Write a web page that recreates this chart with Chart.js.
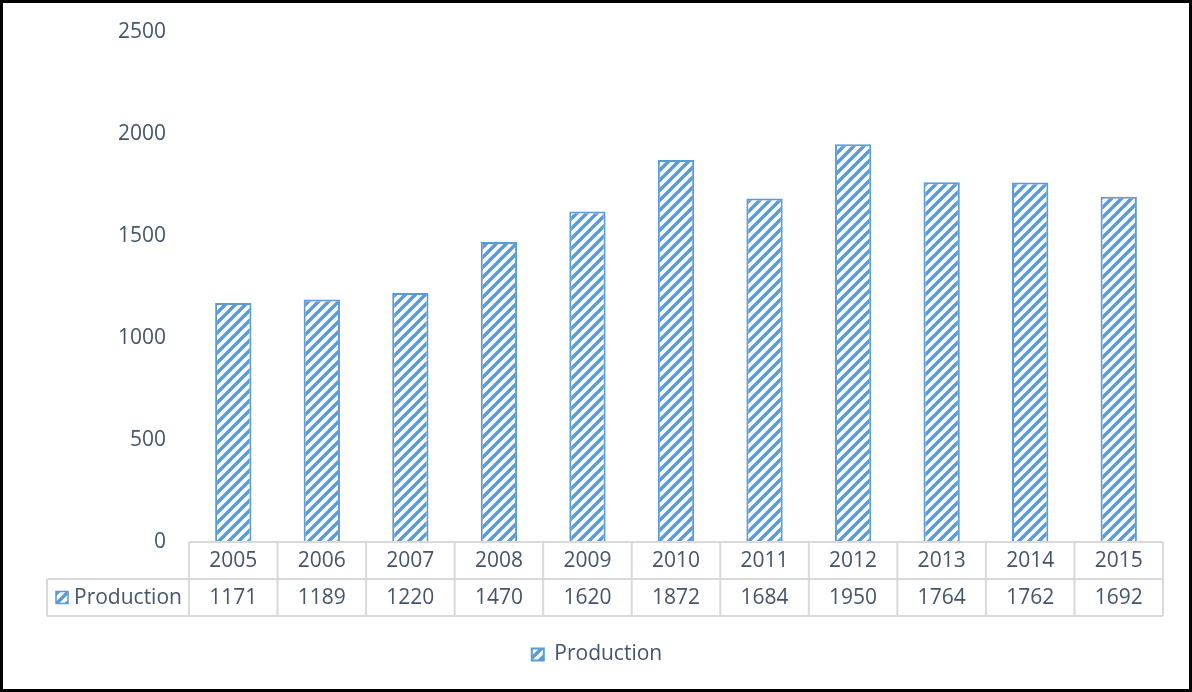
<!DOCTYPE html>
<html>
<head>
<meta charset="utf-8">
<script src="https://cdn.jsdelivr.net/npm/chart.js@4"></script>
<style>
  html, body { margin: 0; padding: 0; background: #fff; }
  #wrap { width: 1192px; height: 692px; }
</style>
</head>
<body>
<div id="wrap"><canvas id="chart" width="1192" height="692"></canvas></div>
<script>
// datos del grafico
const years = ['2005', '2006', '2007', '2008', '2009', '2010', '2011', '2012', '2013', '2014', '2015'];
const production = [1171, 1189, 1220, 1470, 1620, 1872, 1684, 1950, 1764, 1762, 1692];
const yTicks = [0, 500, 1000, 1500, 2000, 2500];
const seriesName = 'Production';

const blue = '#5B9BD5';
const textColor = '#44546A';
const gridColor = '#D9D9D9';
const fontFamily = '"Open Sans", "Noto Sans", sans-serif';
const fontSize = 21;

// Patron de rayas diagonales para las barras
function makeStripes() {
  const size = 10;
  const c = document.createElement('canvas');
  c.width = size;
  c.height = size;
  const g = c.getContext('2d');
  g.fillStyle = '#fff';
  g.fillRect(0, 0, size, size);
  g.strokeStyle = blue;
  g.lineWidth = 3.4;
  g.beginPath();
  g.moveTo(-2, size + 2);
  g.lineTo(size + 2, -2);
  g.moveTo(-2, 2);
  g.lineTo(2, -2);
  g.moveTo(size - 2, size + 2);
  g.lineTo(size + 2, size - 2);
  g.stroke();
  return g.createPattern(c, 'repeat');
}
const stripes = makeStripes();

// Tabla de datos debajo del eje X + marco exterior
const dataTable = {
  id: 'dataTable',
  afterDraw(chart) {
    const ctx = chart.ctx;
    const x = chart.scales.x;
    const area = chart.chartArea;
    const rowH = 37;
    const top = area.bottom;
    const labelLeft = 47;
    const step = (area.right - area.left) / years.length;

    ctx.save();
    ctx.strokeStyle = gridColor;
    ctx.lineWidth = 2;
    ctx.beginPath();
    // lineas horizontales
    ctx.moveTo(area.left, top);
    ctx.lineTo(area.right, top);
    ctx.moveTo(labelLeft, top + rowH);
    ctx.lineTo(area.right, top + rowH);
    ctx.moveTo(labelLeft, top + rowH * 2);
    ctx.lineTo(area.right, top + rowH * 2);
    // lineas verticales
    ctx.moveTo(labelLeft, top + rowH);
    ctx.lineTo(labelLeft, top + rowH * 2);
    for (let i = 0; i <= years.length; i++) {
      const px = area.left + step * i;
      ctx.moveTo(px, top);
      ctx.lineTo(px, top + rowH * 2);
    }
    ctx.stroke();

    ctx.fillStyle = textColor;
    ctx.font = fontSize + 'px ' + fontFamily;
    ctx.textAlign = 'center';
    ctx.textBaseline = 'middle';
    years.forEach((yr, i) => {
      const cx = x.getPixelForValue(i);
      ctx.fillText(yr, cx, top + rowH / 2 + 1);
      ctx.fillText(String(production[i]), cx, top + rowH * 1.5 + 1);
    });

    // etiqueta de la serie con su icono
    const iconX = 56, iconY = top + rowH * 1.5 - 6;
    ctx.fillStyle = stripes;
    ctx.fillRect(iconX, iconY, 12, 12);
    ctx.strokeStyle = blue;
    ctx.lineWidth = 1.5;
    ctx.strokeRect(iconX, iconY, 12, 12);
    ctx.fillStyle = textColor;
    ctx.textAlign = 'left';
    ctx.fillText(seriesName, 74, top + rowH * 1.5 + 1);

    // marco negro
    ctx.strokeStyle = '#000';
    ctx.lineWidth = 3;
    ctx.strokeRect(1.5, 1.5, chart.width - 3, chart.height - 3);
    ctx.restore();
  }
};

const ctx = document.getElementById('chart').getContext('2d');
new Chart(ctx, {
  type: 'bar',
  data: {
    labels: years,
    datasets: [{
      label: seriesName,
      data: production,
      backgroundColor: stripes,
      borderColor: blue,
      borderWidth: 2,
      categoryPercentage: 1,
      barPercentage: 0.41
    }]
  },
  options: {
    responsive: false,
    animation: false,
    layout: { padding: { top: 32, right: 29, bottom: 17, left: 31 } },
    scales: {
      x: {
        grid: { display: false, drawTicks: false },
        border: { display: false },
        ticks: { display: false },
        afterFit(scale) { scale.height = 92; }
      },
      y: {
        min: 0,
        max: 2500,
        afterBuildTicks(scale) { scale.ticks = yTicks.map(v => ({ value: v })); },
        grid: { display: false, drawTicks: false },
        border: { display: false },
        ticks: {
          color: textColor,
          font: { family: fontFamily, size: fontSize },
          padding: 23,
          callback: (v) => String(v)
        },
        afterFit(scale) {
          scale.width = 158;
          scale.paddingTop = 0;
          scale.paddingBottom = 0;
        }
      }
    },
    plugins: {
      legend: {
        position: 'bottom',
        labels: {
          color: textColor,
          font: { family: fontFamily, size: fontSize },
          boxWidth: 12,
          boxHeight: 12,
          padding: 10
        }
      },
      tooltip: { enabled: false }
    }
  },
  plugins: [dataTable]
});
</script>
</body>
</html>
